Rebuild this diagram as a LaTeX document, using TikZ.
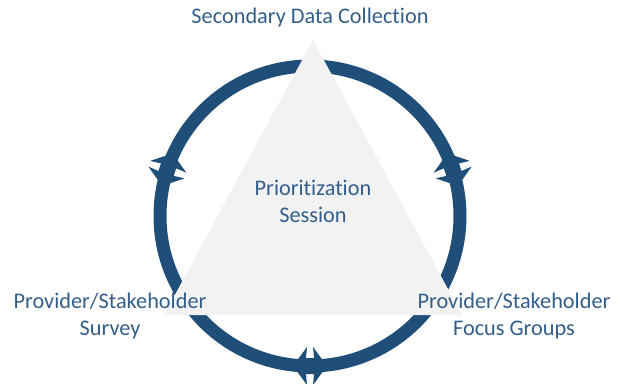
\documentclass[tikz,border=0pt]{standalone}
\usepackage{fontspec}
\setmainfont[Ligatures=NoCommon]{Carlito}
\definecolor{ringblue}{RGB}{31,78,121}
\definecolor{textblue}{RGB}{52,94,138}
\definecolor{trigrey}{RGB}{242,242,242}
\tikzset{
	steptext/.style={text=textblue, font=\fontsize{22.3}{27}\selectfont, align=center, inner sep=0pt},
	ringline/.style={ringblue, line width=13pt},
	turnmark/.style={fill=ringblue}
}
\begin{document}
\begin{tikzpicture}[line join=round, x=1pt, y=1pt]
			\def\cx{310}
			\def\cy{167}
			\def\r{150}
			\useasboundingbox (0,0) rectangle (623,383);
			\coordinate (ctr) at (\cx,\cy);
			% ring
			\draw[ringline] (ctr) circle[radius=\r pt];
			% double arrow heads on the ring
			\foreach \a in {18,162,270}{
				\begin{scope}[shift={(ctr)}, rotate=\a, xshift=\r pt]
					\fill[turnmark] (0,-17) -- (19,-3) -- (8,-4) -- (8,4) -- (19,3) -- (0,17)
						-- (-19,3) -- (-8,4) -- (-8,-4) -- (-19,-3) -- cycle;
				\end{scope}
			}
			% triangle
			\coordinate (apex) at (313,343);
			\coordinate (bl) at (164,68);
			\coordinate (br) at (462,68);
			\fill[trigrey] (bl) -- (apex) -- (br) -- cycle;
			% labels
			\node[steptext] (sdc) at (310,365) {Secondary Data Collection};
			\node[steptext] (ps) at (313,182) {Prioritization\\Session};
			\node[steptext] (survey) at (110,67) {Provider/Stakeholder\\Survey};
			\node[steptext] (focus) at (514,67) {Provider/Stakeholder\\Focus Groups};
\end{tikzpicture}
\end{document}
